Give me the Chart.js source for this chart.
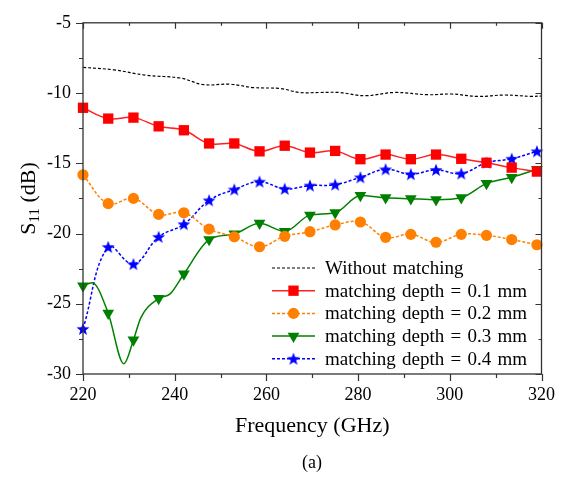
<!DOCTYPE html>
<html>
<head>
<meta charset="utf-8">
<script src="https://cdn.jsdelivr.net/npm/chart.js@4.4.1/dist/chart.umd.min.js"></script>
<style>
  html, body { margin: 0; padding: 0; background: #fff; }
  #wrap { position: relative; width: 565px; height: 478px; }
</style>
</head>
<body>
<div id="wrap"><canvas id="chart" width="565" height="478"></canvas></div>
<script>
// marker frequencies (GHz)
const freq = [220, 225.5, 231, 236.5, 242, 247.5, 253, 258.5, 264, 269.5, 275, 280.5, 286, 291.5, 297, 302.5, 308, 313.5, 319];

// without matching (no markers)
const noMatchFreq = [220, 226.7, 233.9, 241.2, 246.3, 252.1, 257.2, 263, 267.3, 271.7, 275.8, 281.5, 288, 295.3, 300.4, 306.2, 312, 317.8, 320];
const noMatch = [-8.17, -8.35, -8.74, -8.93, -9.4, -9.37, -9.61, -9.68, -9.96, -9.96, -9.96, -10.19, -9.96, -10.12, -10.07, -10.24, -10.14, -10.24, -10.21];

const depth01 = [-11.05, -11.82, -11.75, -12.37, -12.65, -13.59, -13.59, -14.15, -13.75, -14.24, -14.12, -14.71, -14.38, -14.71, -14.38, -14.68, -14.96, -15.31, -15.59];
const depth02 = [-15.82, -17.87, -17.5, -18.64, -18.52, -19.69, -20.23, -20.94, -20.2, -19.87, -19.39, -19.18, -20.27, -20.06, -20.62, -20.06, -20.13, -20.43, -20.8];
const depth03 = [-23.73, -25.67, -27.58, -24.62, -22.88, -20.43, -20.03, -19.27, -19.85, -18.69, -18.52, -17.29, -17.45, -17.52, -17.59, -17.45, -16.43, -16.0, -15.43];
const depth04 = [-26.79, -20.96, -22.18, -20.24, -19.34, -17.64, -16.87, -16.31, -16.82, -16.59, -16.52, -16.0, -15.43, -15.78, -15.47, -15.73, -14.96, -14.68, -14.15];

// extra curve points of the 0.3 mm trace between markers (dip near 229 GHz)
const depth03ExtraFreq = [222, 228.9, 232.6, 239];
const depth03Extra = [-23.5, -29.27, -26.0, -24.3];

const xTicks = [220, 240, 260, 280, 300, 320];
const yTicks = [-5, -10, -15, -20, -25, -30];

const serif = "'Liberation Serif', 'Times New Roman', serif";

const pairs = (xs, ys) => xs.map((x, i) => ({ x, y: ys[i] }));
const withExtra = (ys, exFreq, ex) =>
  pairs(freq, ys).concat(pairs(exFreq, ex)).sort((a, b) => a.x - b.x);

const makeStar = (r, color) => {
  const c = document.createElement('canvas');
  const s = Math.ceil(r * 2) + 2;
  c.width = s;
  c.height = s;
  const g = c.getContext('2d');
  g.fillStyle = color;
  g.beginPath();
  for (let i = 0; i < 10; i++) {
    const rad = i % 2 ? r * 0.42 : r;
    const ang = -Math.PI / 2 + i * Math.PI / 5;
    const px = s / 2 + rad * Math.cos(ang);
    const py = s / 2 + 0.5 + rad * Math.sin(ang);
    if (i === 0) g.moveTo(px, py); else g.lineTo(px, py);
  }
  g.closePath();
  g.fill();
  return c;
};
const star = makeStar(6.8, '#0000ff');

const markerRadius = r => ctx => (ctx.raw && freq.includes(ctx.raw.x) ? r : 0);

// frame with mirrored ticks, axis titles and legend
const framePlugin = {
  id: 'frame',
  afterDraw(chart) {
    const { ctx, chartArea: a, scales } = chart;
    const xs = scales.x;
    const ys = scales.y;
    ctx.save();
    ctx.strokeStyle = '#333';
    ctx.lineWidth = 1.3;
    ctx.strokeRect(a.left, a.top, a.right - a.left, a.bottom - a.top);

    ctx.lineWidth = 1.2;
    ctx.beginPath();
    xs.ticks.forEach(t => {
      const px = Math.round(xs.getPixelForValue(t.value)) + 0.5;
      const major = t.value % 20 === 0;
      ctx.moveTo(px, a.bottom);
      ctx.lineTo(px, a.bottom + (major ? 7 : 4));
      ctx.moveTo(px, a.top);
      ctx.lineTo(px, a.top + (major ? 6 : 3));
    });
    ys.ticks.forEach(t => {
      const py = Math.round(ys.getPixelForValue(t.value)) + 0.5;
      const major = t.value % 5 === 0;
      ctx.moveTo(a.left, py);
      ctx.lineTo(a.left - (major ? 7 : 4), py);
      ctx.moveTo(a.right, py);
      ctx.lineTo(a.right - (major ? 6 : 3), py);
    });
    ctx.stroke();

    // axis titles
    ctx.fillStyle = '#000';
    ctx.textAlign = 'center';
    ctx.textBaseline = 'middle';
    ctx.font = `22px ${serif}`;
    ctx.fillText('Frequency (GHz)', (a.left + a.right) / 2, 426);
    ctx.font = `18px ${serif}`;
    ctx.fillText('(a)', 312, 463);

    ctx.save();
    ctx.translate(27, (a.top + a.bottom) / 2);
    ctx.rotate(-Math.PI / 2);
    ctx.textAlign = 'left';
    ctx.textBaseline = 'alphabetic';
    ctx.font = `22px ${serif}`;
    const w1 = ctx.measureText('S').width;
    const rest = ' (dB)';
    ctx.font = `15px ${serif}`;
    const w2 = ctx.measureText('11').width;
    ctx.font = `22px ${serif}`;
    const w3 = ctx.measureText(rest).width;
    const x0 = -(w1 + w2 + w3) / 2;
    ctx.fillText('S', x0, 8);
    ctx.font = `15px ${serif}`;
    ctx.fillText('11', x0 + w1, 12);
    ctx.font = `22px ${serif}`;
    ctx.fillText(rest, x0 + w1 + w2, 8);
    ctx.restore();

    // legend
    ctx.textAlign = 'left';
    ctx.textBaseline = 'middle';
    ctx.font = `19px ${serif}`;
    ctx.wordSpacing = '1.5px';
    chart.data.datasets.forEach((ds, i) => {
      const y = 268 + i * 22.7;
      ctx.save();
      ctx.strokeStyle = ds.borderColor;
      ctx.lineWidth = ds.borderWidth;
      ctx.setLineDash(ds.borderDash || []);
      ctx.beginPath();
      ctx.moveTo(272, y);
      ctx.lineTo(315, y);
      ctx.stroke();
      ctx.restore();
      if (ds.legendRadius) {
        ctx.save();
        ctx.fillStyle = ds.pointBackgroundColor;
        ctx.strokeStyle = ds.pointBackgroundColor;
        Chart.helpers.drawPoint(ctx, {
          pointStyle: ds.pointStyle,
          rotation: ds.pointRotation || 0,
          radius: ds.legendRadius,
          borderWidth: 0
        }, 293.5, y);
        ctx.restore();
      }
      ctx.fillStyle = '#000';
      ctx.fillText(ds.label, 325, y + 1);
    });
    ctx.restore();
  }
};

new Chart(document.getElementById('chart'), {
  type: 'line',
  data: {
    datasets: [
      {
        label: 'Without matching',
        data: pairs(noMatchFreq, noMatch),
        borderColor: '#000000',
        borderWidth: 1.2,
        borderDash: [3, 2],
        pointRadius: 0,
        tension: 0.4
      },
      {
        label: 'matching depth = 0.1 mm',
        data: pairs(freq, depth01),
        borderColor: '#ff2020',
        borderWidth: 1.5,
        pointStyle: 'rect',
        pointRadius: 7.3,
        legendRadius: 7.3,
        pointBackgroundColor: '#ff0000',
        pointBorderWidth: 0,
        tension: 0.4
      },
      {
        label: 'matching depth = 0.2 mm',
        data: pairs(freq, depth02),
        borderColor: '#ff8000',
        borderWidth: 1.5,
        borderDash: [3, 2],
        pointStyle: 'circle',
        pointRadius: 5.6,
        legendRadius: 5.6,
        pointBackgroundColor: '#ff8000',
        pointBorderWidth: 0,
        tension: 0.4
      },
      {
        label: 'matching depth = 0.3 mm',
        data: withExtra(depth03, depth03ExtraFreq, depth03Extra),
        borderColor: '#008000',
        borderWidth: 1.5,
        pointStyle: 'triangle',
        pointRotation: 180,
        pointRadius: markerRadius(6.8),
        legendRadius: 6.8,
        pointBackgroundColor: '#008000',
        pointBorderWidth: 0,
        cubicInterpolationMode: 'monotone'
      },
      {
        label: 'matching depth = 0.4 mm',
        data: pairs(freq, depth04),
        borderColor: '#0000ff',
        borderWidth: 1.5,
        borderDash: [3, 2],
        pointStyle: star,
        pointRadius: 6.8,
        legendRadius: 6.8,
        pointBackgroundColor: '#0000ff',
        pointBorderWidth: 0,
        tension: 0.4
      }
    ]
  },
  options: {
    responsive: false,
    animation: false,
    clip: false,
    layout: {
      padding: { left: 0, top: 16, right: 23, bottom: 0 }
    },
    plugins: {
      legend: { display: false },
      tooltip: { enabled: false }
    },
    scales: {
      x: {
        type: 'linear',
        min: 220,
        max: 320,
        afterFit: scale => { scale.height = 104; },
        grid: { display: false, drawTicks: false },
        border: { display: false },
        ticks: {
          stepSize: 10,
          autoSkip: false,
          maxRotation: 0,
          padding: 10,
          color: '#000',
          font: { family: serif, size: 18 },
          callback: v => (xTicks.includes(v) ? String(v) : '')
        }
      },
      y: {
        min: -30,
        max: -5,
        afterFit: scale => { scale.width = 83; },
        grid: { display: false, drawTicks: false },
        border: { display: false },
        ticks: {
          stepSize: 2.5,
          autoSkip: false,
          padding: 12,
          color: '#000',
          font: { family: serif, size: 18 },
          callback: v => (yTicks.includes(v) ? String(v) : '')
        }
      }
    }
  },
  plugins: [framePlugin]
});
</script>
</body>
</html>
